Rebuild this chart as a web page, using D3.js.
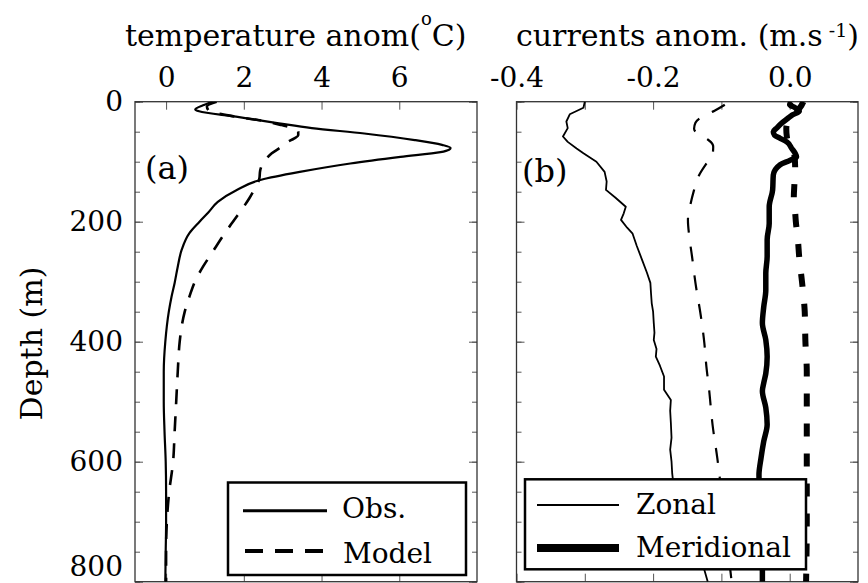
<!DOCTYPE html>
<html><head><meta charset="utf-8">
<script src="https://cdn.jsdelivr.net/npm/d3@7"></script>
<style>
body{margin:0;background:#fff}
text{font-family:"DejaVu Serif",serif;fill:#000}
</style>
</head><body>
<svg id="c" width="868" height="583"></svg>
<script>
// ---------- data ----------
const depthMajorTicks = [0, 200, 400, 600, 800];
const depthMinorTicks = [0,50,100,150,200,250,300,350,400,450,500,550,600,650,700,750,800];
const tempTicks = [0, 2, 4, 6];
const currentTicks = [-0.4, -0.3, -0.2, -0.1, 0.0];
const currentLabelled = [-0.4, -0.2, 0.0];

// (a) temperature anomaly, observed
const tempObsDepth = [0,6,13,16,25,36,44,53,64,72,77,80,84,92,103,117,130,147,167,185,200,219,247,275,302,325,350,400,450,500,550,600,650,700,750,800];
const tempObs      = [1.2,0.95,0.75,0.85,1.8,2.9,3.75,5.1,6.4,7.1,7.32,7.28,7.06,6.03,4.74,3.44,2.45,1.82,1.33,1.08,0.86,0.6,0.4,0.3,0.22,0.14,0.07,-0.02,-0.06,-0.06,-0.04,-0.01,0.0,0.0,-0.01,-0.02];
// (a) temperature anomaly, model
const tempModDepth = [0,8,15,25,32,39,45,50,56,61,68,75,86,100,115,128,145,160,172,200,225,250,275,300,325,350,375,400,450,500,550,600,650,700,750,800];
const tempMod      = [1.3,1.05,1.1,1.8,2.5,2.97,3.3,3.4,3.4,3.3,3.1,2.97,2.72,2.52,2.42,2.4,2.28,2.15,2.03,1.72,1.45,1.2,0.95,0.74,0.6,0.48,0.4,0.35,0.3,0.26,0.22,0.18,0.08,0.02,0.0,0.0];

// (b) zonal current anomaly, observed
const zonObsDepth = [0,10,21,33,44,58,67,78,86,100,117,133,147,160,175,186,197,210,220,240,264,285,302,320,336,350,369,385,397,412,425,440,458,480,497,515,535,560,580,600,620,640,700,750,780,800];
const zonObs      = [-0.300,-0.302,-0.322,-0.327,-0.325,-0.332,-0.325,-0.312,-0.302,-0.283,-0.271,-0.268,-0.269,-0.255,-0.240,-0.243,-0.247,-0.238,-0.230,-0.224,-0.216,-0.209,-0.204,-0.203,-0.202,-0.200,-0.199,-0.198,-0.199,-0.195,-0.196,-0.190,-0.184,-0.184,-0.174,-0.175,-0.174,-0.173,-0.175,-0.173,-0.172,-0.170,-0.160,-0.140,-0.125,-0.120];
// (b) zonal current anomaly, model
const zonModDepth = [5,15,25,35,45,55,63,75,90,105,128,147,175,197,225,258,302,358,402,441,480,538,594,650,700,750,800];
const zonMod      = [-0.095,-0.110,-0.128,-0.138,-0.140,-0.133,-0.120,-0.112,-0.113,-0.123,-0.135,-0.140,-0.146,-0.149,-0.147,-0.143,-0.138,-0.130,-0.125,-0.122,-0.118,-0.113,-0.106,-0.100,-0.095,-0.090,-0.085];
// (b) meridional current anomaly, observed
const merObsDepth = [0,5,10,16,22,28,36,44,50,56,61,67,78,86,92,98,105,122,147,175,203,230,258,286,314,342,369,397,425,453,469,482,510,538,566,594,622,700,750,800];
const merObs      = [0.002,0.0,0.008,0.014,0.004,-0.003,-0.012,-0.019,-0.024,-0.022,-0.014,-0.004,0.003,0.008,0.010,0.0,-0.014,-0.024,-0.025,-0.030,-0.030,-0.033,-0.033,-0.035,-0.035,-0.038,-0.040,-0.035,-0.033,-0.035,-0.038,-0.040,-0.035,-0.033,-0.038,-0.042,-0.045,-0.042,-0.040,-0.040];
// (b) meridional current anomaly, model
const merModDepth = [0,10,20,30,45,60,75,90,110,135,160,185,200,230,260,300,350,400,450,500,600,700,800];
const merMod      = [0.020,0.015,0.006,-0.002,-0.005,-0.004,0.002,0.007,0.008,0.007,0.006,0.008,0.009,0.012,0.014,0.018,0.022,0.023,0.025,0.025,0.025,0.025,0.024];

// ---------- layout ----------
const svg = d3.select("#c");
const y = d3.scaleLinear().domain([0, 800]).range([101.7, 581.7]);
const xa = d3.scaleLinear().domain([-0.8, 8]).range([135, 477]);
const xb = d3.scaleLinear().domain([-0.4, 0.1]).range([516.5, 858]);
const frameColor = "#333", tickColor = "#555";

function frameAxes(x, labelY, xTicks, xFmt) {
  const [x0, x1] = x.range(), [y0, y1] = y.range();
  const gt = svg.append("g").attr("transform", `translate(0,${y0})`)
    .call(d3.axisTop(x).tickValues(xTicks).tickSize(-8).tickPadding(14.5).tickFormat(xFmt));
  const gb = svg.append("g").attr("transform", `translate(0,${y1})`)
    .call(d3.axisBottom(x).tickValues(xTicks).tickSize(-8).tickFormat(""));
  const glm = svg.append("g").attr("transform", `translate(${x0},0)`)
    .call(d3.axisLeft(y).tickValues(depthMinorTicks).tickSize(-5).tickFormat(""));
  const gl = svg.append("g").attr("transform", `translate(${x0},0)`)
    .call(d3.axisLeft(y).tickValues(depthMajorTicks).tickSize(-8).tickPadding(12)
      .tickFormat(labelY ? d3.format("d") : ""));
  const grm = svg.append("g").attr("transform", `translate(${x1},0)`)
    .call(d3.axisRight(y).tickValues(depthMinorTicks).tickSize(-5).tickFormat(""));
  const gr = svg.append("g").attr("transform", `translate(${x1},0)`)
    .call(d3.axisRight(y).tickValues(depthMajorTicks).tickSize(-8).tickFormat(""));
  [gt, gb, glm, gl, grm, gr].forEach(g => {
    g.select(".domain").remove();
    g.selectAll(".tick line").attr("stroke", tickColor).attr("stroke-width", 1);
    g.selectAll(".tick text").attr("font-family", "DejaVu Serif").attr("font-size", 28).attr("fill", "#000");
  });
  if (labelY) gl.selectAll(".tick text").filter(d => d === 800).attr("transform", "translate(0,-15)");
  svg.append("rect").attr("x", x0).attr("y", y0).attr("width", x1 - x0).attr("height", y1 - y0)
    .attr("fill", "none").attr("stroke", frameColor).attr("stroke-width", 1.3);
}

frameAxes(xa, true, tempTicks, d3.format("d"));
frameAxes(xb, false, currentTicks, d => currentLabelled.includes(d) ? d.toFixed(1).replace("\u2212", "-") : "");

function clip(id, x) {
  svg.append("clipPath").attr("id", id).append("rect")
    .attr("x", x.range()[0]).attr("y", y.range()[0])
    .attr("width", x.range()[1] - x.range()[0]).attr("height", y.range()[1] - y.range()[0]);
}
clip("ca", xa); clip("cb", xb);

function drawLine(x, depths, vals, clipId, width, dash, curve) {
  const pts = depths.map((d, i) => [vals[i], d]);
  const line = d3.line().x(p => x(p[0])).y(p => y(p[1])).curve(curve);
  svg.append("path").datum(pts).attr("d", line)
    .attr("fill", "none").attr("stroke", "#000").attr("stroke-width", width)
    .attr("stroke-dasharray", dash).attr("stroke-linejoin", "round")
    .attr("clip-path", `url(#${clipId})`);
}
drawLine(xa, tempObsDepth, tempObs, "ca", 2.2, null, d3.curveMonotoneY);
drawLine(xa, tempModDepth, tempMod, "ca", 2.6, "15,12", d3.curveMonotoneY);
drawLine(xb, zonObsDepth, zonObs, "cb", 1.8, null, d3.curveLinear);
drawLine(xb, zonModDepth, zonMod, "cb", 2.2, "15,14", d3.curveMonotoneY);
drawLine(xb, merObsDepth, merObs, "cb", 5.5, null, d3.curveMonotoneY);
drawLine(xb, merModDepth, merMod, "cb", 6, "13,17", d3.curveMonotoneY);

// titles
const ta = svg.append("text").attr("x", 125).attr("y", 46).attr("font-size", 30);
ta.append("tspan").text("temperature anom(");
ta.append("tspan").attr("font-size", 18).attr("dy", -21).text("o");
ta.append("tspan").attr("dy", 21).text("C)");
const tb = svg.append("text").attr("x", 516).attr("y", 46).attr("font-size", 30);
tb.append("tspan").text("currents anom. (m.s");
tb.append("tspan").attr("font-size", 19).attr("dy", -9).text(" -1");
tb.append("tspan").attr("dy", 9).text(")");

// y label
svg.append("text").attr("transform", "translate(42,343.5) rotate(-90)")
  .attr("text-anchor", "middle").attr("font-size", 30).text("Depth (m)");

// panel labels
svg.append("text").attr("x", 145).attr("y", 179).attr("font-size", 32).text("(a)");
svg.append("text").attr("x", 522).attr("y", 182).attr("font-size", 32).text("(b)");

// legends
function legend(x0, y0, w, h, items) {
  const g = svg.append("g");
  g.append("rect").attr("x", x0).attr("y", y0).attr("width", w).attr("height", h)
    .attr("fill", "#fff").attr("stroke", "#000").attr("stroke-width", 2.5);
  items.forEach(it => {
    g.append("line").attr("x1", it.lx0).attr("x2", it.lx1).attr("y1", it.ly).attr("y2", it.ly)
      .attr("stroke", "#000").attr("stroke-width", it.w).attr("stroke-dasharray", it.dash);
    g.append("text").attr("x", it.tx).attr("y", it.ty).attr("font-size", 28).text(it.label);
  });
}
const legendA = ["Obs.", "Model"];
const legendB = ["Zonal", "Meridional"];
legend(228, 482.5, 238, 92.5, [
  {label: legendA[0], lx0: 243, lx1: 327, ly: 510.7, w: 3, dash: null, tx: 342, ty: 518},
  {label: legendA[1], lx0: 245, lx1: 324, ly: 551, w: 4, dash: "18,12", tx: 343, ty: 563}
]);
legend(525, 479.3, 281, 90, [
  {label: legendB[0], lx0: 537, lx1: 619, ly: 505, w: 2, dash: null, tx: 636, ty: 514},
  {label: legendB[1], lx0: 537, lx1: 619, ly: 548, w: 8, dash: null, tx: 636, ty: 557}
]);
</script>
</body></html>
